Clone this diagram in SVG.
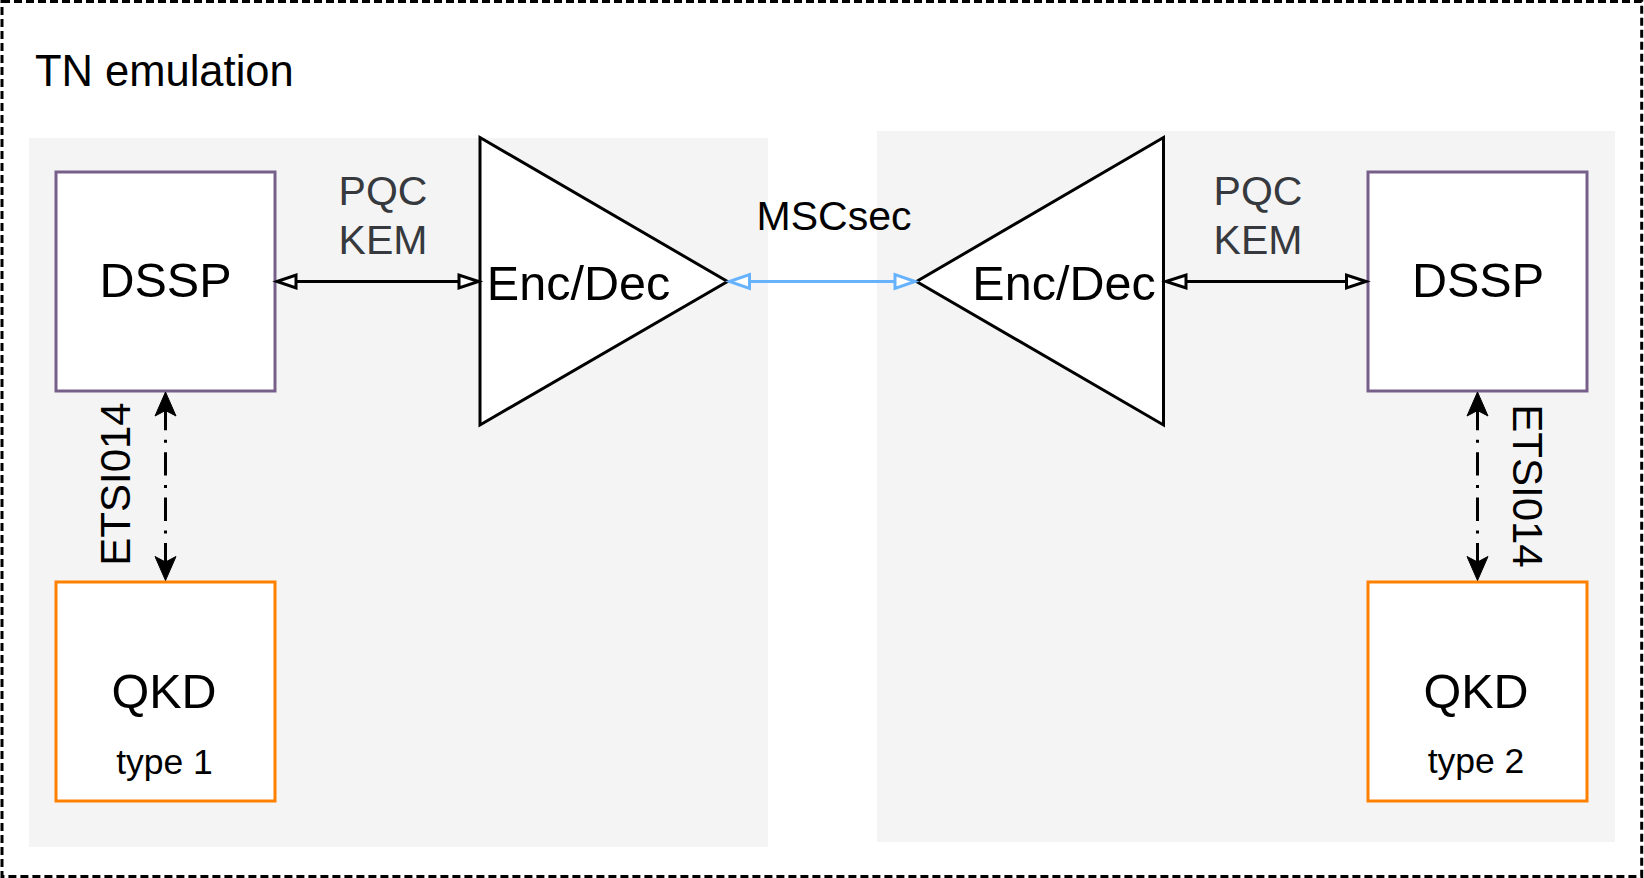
<svg xmlns="http://www.w3.org/2000/svg" width="1644" height="878" viewBox="0 0 1644 878">
<style>
text{font-family:"Liberation Sans",Arial,sans-serif;}
.panel{fill:#F4F4F4;stroke:none;}
.dssp{fill:#FFFFFF;stroke:#76608A;stroke-width:3;}
.qkd{fill:#FFFFFF;stroke:#FF8000;stroke-width:3;}
.tri{fill:#FFFFFF;stroke:#000000;stroke-width:3;stroke-linejoin:miter;}
.lbl{fill:#36393D;font-size:41px;text-anchor:middle;}
.big{fill:#000000;font-size:48.5px;text-anchor:middle;}
.sub{fill:#000000;font-size:35.5px;text-anchor:middle;}
.line{fill:none;stroke:#000000;stroke-width:3;}
.blue{fill:none;stroke:#66B2FF;stroke-width:3;}
.dd{fill:none;stroke:#000000;stroke-width:3;stroke-dasharray:23.3 9.5 3 9.5;}
.open{fill:#FFFFFF;stroke:#000000;stroke-width:3;stroke-linejoin:miter;}
.openb{fill:#FFFFFF;stroke:#66B2FF;stroke-width:3;stroke-linejoin:miter;}
.solid{fill:#000000;stroke:#000000;stroke-width:1;}
.vert{fill:#000000;font-size:42px;text-anchor:middle;}
</style>
<rect x="0" y="0" width="1644" height="878" fill="#FFFFFF"/>
<g id="tn-emulation">
<rect x="2" y="1.5" width="1639.7" height="875" fill="none" stroke="#000000" stroke-width="3" stroke-dasharray="8 4"/>
<text x="35" y="86" font-size="43.5" fill="#000000">TN emulation</text>
</g>
<g id="panel-left"><rect class="panel" x="29" y="138" width="739" height="709"/></g>
<g id="panel-right"><rect class="panel" x="877" y="131" width="738" height="711"/></g>
<g id="dssp-left">
<rect class="dssp" x="56" y="172" width="219" height="219"/>
<text class="big" x="165.5" y="297">DSSP</text>
</g>
<g id="qkd-left">
<rect class="qkd" x="56" y="582" width="219" height="219"/>
<text class="big" x="164" y="708">QKD</text>
<text class="sub" x="164.5" y="774">type 1</text>
</g>
<g id="dssp-right">
<rect class="dssp" x="1368" y="172" width="219" height="219"/>
<text class="big" x="1478" y="297">DSSP</text>
</g>
<g id="qkd-right">
<rect class="qkd" x="1368" y="582" width="219" height="219"/>
<text class="big" x="1476" y="708">QKD</text>
<text class="sub" x="1476" y="773">type 2</text>
</g>
<g id="encdec-left">
<polygon class="tri" points="480,137.5 727.5,281.5 480,425"/>
<text class="big" x="578.5" y="300">Enc/Dec</text>
</g>
<g id="encdec-right">
<polygon class="tri" points="1163.5,137.5 916.5,281.5 1163.5,425"/>
<text class="big" x="1064" y="300">Enc/Dec</text>
</g>
<g id="connectors">
<line class="line" x1="296" y1="281.5" x2="459" y2="281.5"/>
<polygon class="open" points="277,281.5 296,275 296,288"/>
<polygon class="open" points="478.5,281.5 459,275 459,288"/>
<text class="lbl" x="383" y="205">PQC</text>
<text class="lbl" x="383" y="254">KEM</text>

<line class="line" x1="1186" y1="281.5" x2="1347" y2="281.5"/>
<polygon class="open" points="1166,281.5 1186,275 1186,288"/>
<polygon class="open" points="1366,281.5 1346.5,275 1346.5,288"/>
<text class="lbl" x="1258" y="205">PQC</text>
<text class="lbl" x="1258" y="254">KEM</text>

<line class="blue" x1="749" y1="281.5" x2="895" y2="281.5"/>
<polygon class="openb" points="729.5,281.5 749.5,274.5 749.5,288.5"/>
<polygon class="openb" points="915,281.5 895,274.5 895,288.5"/>
<text x="834" y="230" font-size="41" fill="#000000" text-anchor="middle">MSCsec</text>

<line class="dd" x1="165.5" y1="407" x2="165.5" y2="566"/>
<polygon class="solid" points="165.5,392 155,416 165.5,410.5 176,416"/>
<polygon class="solid" points="165.5,580.5 155,556.5 165.5,562 176,556.5"/>
<text class="vert" transform="translate(129.5,484) rotate(-90)">ETSI014</text>

<line class="dd" x1="1477.5" y1="407" x2="1477.5" y2="566"/>
<polygon class="solid" points="1477.5,392 1467,416 1477.5,410.5 1488,416"/>
<polygon class="solid" points="1477.5,580.5 1467,556.5 1477.5,562 1488,556.5"/>
<text class="vert" transform="translate(1512.5,486) rotate(90)">ETSI014</text>
</g>
</svg>
